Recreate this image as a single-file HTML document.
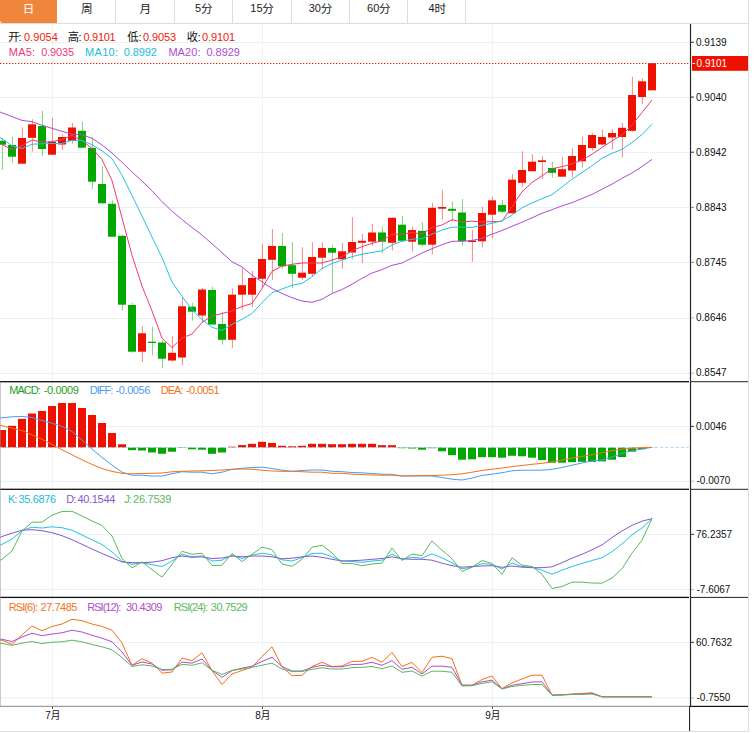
<!DOCTYPE html>
<html lang="zh"><head><meta charset="utf-8"><title>K线图</title>
<style>
html,body{margin:0;padding:0;background:#fff}
body{width:755px;height:733px;position:relative;overflow:hidden;font-family:"Liberation Sans",sans-serif}
#wrap{position:absolute;left:0;top:0;width:748px;height:731px;border-right:1px solid #ddd;border-bottom:1px solid #ddd;overflow:hidden}
#tabs{position:absolute;left:0;top:0;width:748px;height:23px;border-bottom:1px solid #ddd}
.tab{position:absolute;top:0;height:23px;box-sizing:border-box;border-right:1px solid #ddd}
.tab.act{background:#f0863c;background-clip:padding-box;border-right-color:transparent;border-bottom-left-radius:2px;height:22.6px}
#chart{position:absolute;left:0;top:0}
.t{position:absolute;line-height:14px;white-space:pre}
.cj{position:absolute;overflow:visible}
.cjt{font-family:"Liberation Sans","Noto Sans CJK SC",sans-serif}
</style></head><body>
<div id="wrap">
<div id="tabs">
<div class="tab act" style="left:0px;width:58px"><span class="t cjt" style="left:22.73px;top:1.5px;font-size:11.6px;color:#fff">日</span></div>
<div class="tab" style="left:58px;width:58px"><span class="t cjt" style="left:23.10px;top:1.5px;font-size:11.6px;color:#222">周</span></div>
<div class="tab" style="left:116px;width:59px"><span class="t cjt" style="left:23.47px;top:1.5px;font-size:11.6px;color:#222">月</span></div>
<div class="tab" style="left:175px;width:58px"><span class="t" style="left:19.98px;top:1.19px;font-size:11px;color:#222">5</span><span class="t cjt" style="left:25.90px;top:1.5px;font-size:11.6px;color:#222">分</span></div>
<div class="tab" style="left:233px;width:58.5px"><span class="t" style="left:17.29px;top:1.19px;font-size:11px;color:#222">15</span><span class="t cjt" style="left:29.33px;top:1.5px;font-size:11.6px;color:#222">分</span></div>
<div class="tab" style="left:291.5px;width:58.5px"><span class="t" style="left:17.16px;top:1.19px;font-size:11px;color:#222">30</span><span class="t cjt" style="left:29.20px;top:1.5px;font-size:11.6px;color:#222">分</span></div>
<div class="tab" style="left:350px;width:58px"><span class="t" style="left:17.03px;top:1.19px;font-size:11px;color:#222">60</span><span class="t cjt" style="left:29.07px;top:1.5px;font-size:11.6px;color:#222">分</span></div>
<div class="tab" style="left:408px;width:58px"><span class="t" style="left:20.46px;top:1.19px;font-size:11px;color:#222">4</span><span class="t cjt" style="left:26.38px;top:1.5px;font-size:11.6px;color:#222">时</span></div>
</div>
<svg id="chart" width="748" height="731" viewBox="0 0 748 731" shape-rendering="auto">
<rect x="0" y="42" width="689" height="1" fill="#e9f0f6"/>
<rect x="0" y="97" width="689" height="1" fill="#e9f0f6"/>
<rect x="0" y="152" width="689" height="1" fill="#e9f0f6"/>
<rect x="0" y="207" width="689" height="1" fill="#e9f0f6"/>
<rect x="0" y="262" width="689" height="1" fill="#e9f0f6"/>
<rect x="0" y="318" width="689" height="1" fill="#e9f0f6"/>
<rect x="0" y="373" width="689" height="1" fill="#e9f0f6"/>
<rect x="0" y="426" width="689" height="1" fill="#e9f0f6"/>
<rect x="0" y="481" width="689" height="1" fill="#e9f0f6"/>
<rect x="0" y="534" width="689" height="1" fill="#e9f0f6"/>
<rect x="0" y="589" width="689" height="1" fill="#e9f0f6"/>
<rect x="0" y="642" width="689" height="1" fill="#e9f0f6"/>
<rect x="0" y="697.4" width="689" height="1" fill="#e9f0f6"/>
<rect x="52" y="24" width="1" height="682" fill="#eef3f8"/>
<rect x="52" y="706" width="1" height="3" fill="#555"/>
<rect x="262" y="24" width="1" height="682" fill="#eef3f8"/>
<rect x="262" y="706" width="1" height="3" fill="#555"/>
<rect x="492" y="24" width="1" height="682" fill="#eef3f8"/>
<rect x="492" y="706" width="1" height="3" fill="#555"/>
<rect x="1.9" y="138" width="1" height="31.7" fill="#00a800" opacity="0.5"/>
<rect x="-2" y="140.8" width="8" height="3.9" fill="#00a800"/>
<rect x="11.9" y="137" width="1" height="25.7" fill="#00a800" opacity="0.5"/>
<rect x="8" y="145" width="8" height="11.7" fill="#00a800"/>
<rect x="21.9" y="127.5" width="1" height="36.2" fill="#ee1100" opacity="0.5"/>
<rect x="18" y="138" width="8" height="25.7" fill="#ee1100"/>
<rect x="31.9" y="119.2" width="1" height="32.5" fill="#ee1100" opacity="0.5"/>
<rect x="28" y="124.3" width="8" height="13.5" fill="#ee1100"/>
<rect x="41.9" y="110.8" width="1" height="45.4" fill="#00a800" opacity="0.5"/>
<rect x="38" y="126" width="8" height="23" fill="#00a800"/>
<rect x="51.9" y="117.8" width="1" height="36.9" fill="#ee1100" opacity="0.5"/>
<rect x="48" y="141.7" width="8" height="13" fill="#ee1100"/>
<rect x="61.9" y="134.2" width="1" height="15.8" fill="#ee1100" opacity="0.5"/>
<rect x="58" y="137" width="8" height="7.5" fill="#ee1100"/>
<rect x="71.9" y="123" width="1" height="20.8" fill="#ee1100" opacity="0.5"/>
<rect x="68" y="127.5" width="8" height="13.3" fill="#ee1100"/>
<rect x="81.9" y="121.7" width="1" height="26" fill="#00a800" opacity="0.5"/>
<rect x="78" y="130.8" width="8" height="16.9" fill="#00a800"/>
<rect x="91.9" y="137" width="1" height="52.2" fill="#00a800" opacity="0.5"/>
<rect x="88" y="148" width="8" height="33.7" fill="#00a800"/>
<rect x="101.9" y="166.2" width="1" height="37.1" fill="#00a800" opacity="0.5"/>
<rect x="98" y="184" width="8" height="19.3" fill="#00a800"/>
<rect x="111.9" y="200.2" width="1" height="36.5" fill="#00a800" opacity="0.5"/>
<rect x="108" y="203.8" width="8" height="32.9" fill="#00a800"/>
<rect x="121.9" y="235" width="1" height="75.5" fill="#00a800" opacity="0.5"/>
<rect x="118" y="235.8" width="8" height="68.9" fill="#00a800"/>
<rect x="131.9" y="302.5" width="1" height="50.3" fill="#00a800" opacity="0.5"/>
<rect x="128" y="305" width="8" height="46.7" fill="#00a800"/>
<rect x="141.9" y="326.2" width="1" height="35.8" fill="#ee1100" opacity="0.5"/>
<rect x="138" y="333.3" width="8" height="18.4" fill="#ee1100"/>
<rect x="151.9" y="326.7" width="1" height="28.8" fill="#00a800" opacity="0.5"/>
<rect x="148" y="341.7" width="8" height="1.3" fill="#00a800"/>
<rect x="161.9" y="340" width="1" height="28.3" fill="#00a800" opacity="0.5"/>
<rect x="158" y="342.5" width="8" height="16.2" fill="#00a800"/>
<rect x="171.9" y="336.2" width="1" height="25.5" fill="#ee1100" opacity="0.5"/>
<rect x="168" y="352.8" width="8" height="7.7" fill="#ee1100"/>
<rect x="181.9" y="297.5" width="1" height="67.5" fill="#ee1100" opacity="0.5"/>
<rect x="178" y="306.3" width="8" height="51.2" fill="#ee1100"/>
<rect x="191.9" y="302.8" width="1" height="17.7" fill="#00a800" opacity="0.5"/>
<rect x="188" y="306.7" width="8" height="5" fill="#00a800"/>
<rect x="201.9" y="288" width="1" height="35" fill="#ee1100" opacity="0.5"/>
<rect x="198" y="289.5" width="8" height="26" fill="#ee1100"/>
<rect x="211.9" y="286.7" width="1" height="37.8" fill="#00a800" opacity="0.5"/>
<rect x="208" y="290" width="8" height="34.5" fill="#00a800"/>
<rect x="221.9" y="312.2" width="1" height="32.3" fill="#00a800" opacity="0.5"/>
<rect x="218" y="324" width="8" height="15.8" fill="#00a800"/>
<rect x="231.9" y="288.5" width="1" height="59.2" fill="#ee1100" opacity="0.5"/>
<rect x="228" y="294.7" width="8" height="45.1" fill="#ee1100"/>
<rect x="241.9" y="267.7" width="1" height="42" fill="#ee1100" opacity="0.5"/>
<rect x="238" y="285.2" width="8" height="9.5" fill="#ee1100"/>
<rect x="251.9" y="271" width="1" height="36.2" fill="#ee1100" opacity="0.5"/>
<rect x="248" y="278" width="8" height="16.7" fill="#ee1100"/>
<rect x="261.9" y="244" width="1" height="44.5" fill="#ee1100" opacity="0.5"/>
<rect x="258" y="259" width="8" height="19.8" fill="#ee1100"/>
<rect x="271.9" y="229" width="1" height="50.7" fill="#ee1100" opacity="0.5"/>
<rect x="268" y="246" width="8" height="13.8" fill="#ee1100"/>
<rect x="281.9" y="233" width="1" height="36" fill="#00a800" opacity="0.5"/>
<rect x="278" y="246" width="8" height="20.3" fill="#00a800"/>
<rect x="291.9" y="242.2" width="1" height="45.8" fill="#00a800" opacity="0.5"/>
<rect x="288" y="265.2" width="8" height="8.6" fill="#00a800"/>
<rect x="301.9" y="247.2" width="1" height="32.5" fill="#ee1100" opacity="0.5"/>
<rect x="298" y="272.7" width="8" height="5" fill="#ee1100"/>
<rect x="311.9" y="242.2" width="1" height="33.8" fill="#ee1100" opacity="0.5"/>
<rect x="308" y="257" width="8" height="16.8" fill="#ee1100"/>
<rect x="321.9" y="242.2" width="1" height="27.5" fill="#ee1100" opacity="0.5"/>
<rect x="318" y="248" width="8" height="9.7" fill="#ee1100"/>
<rect x="331.9" y="244.8" width="1" height="48.7" fill="#00a800" opacity="0.5"/>
<rect x="328" y="248" width="8" height="4.7" fill="#00a800"/>
<rect x="341.9" y="242.8" width="1" height="25.9" fill="#ee1100" opacity="0.5"/>
<rect x="338" y="251.3" width="8" height="7.9" fill="#ee1100"/>
<rect x="351.9" y="217" width="1" height="42.2" fill="#ee1100" opacity="0.5"/>
<rect x="348" y="242" width="8" height="10.5" fill="#ee1100"/>
<rect x="361.9" y="233.8" width="1" height="29" fill="#ee1100" opacity="0.5"/>
<rect x="358" y="240.8" width="8" height="2" fill="#ee1100"/>
<rect x="371.9" y="223.8" width="1" height="22" fill="#ee1100" opacity="0.5"/>
<rect x="368" y="232.5" width="8" height="9.2" fill="#ee1100"/>
<rect x="381.9" y="226.7" width="1" height="26.6" fill="#00a800" opacity="0.5"/>
<rect x="378" y="232.5" width="8" height="9.2" fill="#00a800"/>
<rect x="391.9" y="217.2" width="1" height="33.1" fill="#ee1100" opacity="0.5"/>
<rect x="388" y="217.8" width="8" height="25" fill="#ee1100"/>
<rect x="401.9" y="215.8" width="1" height="26.2" fill="#00a800" opacity="0.5"/>
<rect x="398" y="224.7" width="8" height="16.1" fill="#00a800"/>
<rect x="411.9" y="226.7" width="1" height="25" fill="#ee1100" opacity="0.5"/>
<rect x="408" y="230" width="8" height="11.7" fill="#ee1100"/>
<rect x="421.9" y="222.2" width="1" height="24.5" fill="#00a800" opacity="0.5"/>
<rect x="418" y="230.8" width="8" height="13.9" fill="#00a800"/>
<rect x="431.9" y="202.8" width="1" height="51.4" fill="#ee1100" opacity="0.5"/>
<rect x="428" y="207.8" width="8" height="36.9" fill="#ee1100"/>
<rect x="441.9" y="189.7" width="1" height="30" fill="#ee1100" opacity="0.5"/>
<rect x="438" y="207" width="8" height="1.7" fill="#ee1100"/>
<rect x="451.9" y="201.7" width="1" height="20" fill="#00a800" opacity="0.5"/>
<rect x="448" y="208.8" width="8" height="2" fill="#00a800"/>
<rect x="461.9" y="199" width="1" height="46.3" fill="#00a800" opacity="0.5"/>
<rect x="458" y="212.5" width="8" height="28.7" fill="#00a800"/>
<rect x="471.9" y="230" width="1" height="31.7" fill="#ee1100" opacity="0.5"/>
<rect x="468" y="240.5" width="8" height="1.5" fill="#ee1100"/>
<rect x="481.9" y="206.7" width="1" height="40.8" fill="#ee1100" opacity="0.5"/>
<rect x="478" y="213" width="8" height="28.3" fill="#ee1100"/>
<rect x="491.9" y="196.7" width="1" height="41.6" fill="#ee1100" opacity="0.5"/>
<rect x="488" y="200.3" width="8" height="14.4" fill="#ee1100"/>
<rect x="501.9" y="199.7" width="1" height="13.6" fill="#00a800" opacity="0.5"/>
<rect x="498" y="205" width="8" height="6.7" fill="#00a800"/>
<rect x="511.9" y="174.2" width="1" height="39.1" fill="#ee1100" opacity="0.5"/>
<rect x="508" y="179.7" width="8" height="33.6" fill="#ee1100"/>
<rect x="521.9" y="151.3" width="1" height="35.4" fill="#ee1100" opacity="0.5"/>
<rect x="518" y="170" width="8" height="12.8" fill="#ee1100"/>
<rect x="531.9" y="154.2" width="1" height="17.5" fill="#ee1100" opacity="0.5"/>
<rect x="528" y="161.7" width="8" height="9.5" fill="#ee1100"/>
<rect x="541.9" y="156.2" width="1" height="22.5" fill="#ee1100" opacity="0.5"/>
<rect x="538" y="160.3" width="8" height="1.7" fill="#ee1100"/>
<rect x="551.9" y="161.7" width="1" height="16.1" fill="#00a800" opacity="0.5"/>
<rect x="548" y="168" width="8" height="4.8" fill="#00a800"/>
<rect x="561.9" y="157.2" width="1" height="19.5" fill="#ee1100" opacity="0.5"/>
<rect x="558" y="169.2" width="8" height="7.5" fill="#ee1100"/>
<rect x="571.9" y="148" width="1" height="29.5" fill="#ee1100" opacity="0.5"/>
<rect x="568" y="156" width="8" height="14.5" fill="#ee1100"/>
<rect x="581.9" y="136.7" width="1" height="30.8" fill="#ee1100" opacity="0.5"/>
<rect x="578" y="145" width="8" height="16.3" fill="#ee1100"/>
<rect x="591.9" y="132.8" width="1" height="17.7" fill="#ee1100" opacity="0.5"/>
<rect x="588" y="135" width="8" height="13" fill="#ee1100"/>
<rect x="601.9" y="129.7" width="1" height="15.6" fill="#ee1100" opacity="0.5"/>
<rect x="598" y="137" width="8" height="7.5" fill="#ee1100"/>
<rect x="611.9" y="128.8" width="1" height="20.7" fill="#ee1100" opacity="0.5"/>
<rect x="608" y="133" width="8" height="4.5" fill="#ee1100"/>
<rect x="621.9" y="122.8" width="1" height="34.7" fill="#ee1100" opacity="0.5"/>
<rect x="618" y="127.8" width="8" height="9.2" fill="#ee1100"/>
<rect x="631.9" y="76.7" width="1" height="55" fill="#ee1100" opacity="0.5"/>
<rect x="628" y="95" width="8" height="35.8" fill="#ee1100"/>
<rect x="641.9" y="78.3" width="1" height="25.9" fill="#ee1100" opacity="0.5"/>
<rect x="638" y="81.3" width="8" height="15.7" fill="#ee1100"/>
<rect x="651.9" y="63.3" width="1" height="27" fill="#ee1100" opacity="0.5"/>
<rect x="648" y="63.3" width="8" height="27" fill="#ee1100"/>
<polyline points="-8,140.5 0,143.7 2,144.5 12,149.5 22,145.5 32,140 42,142.2 52,141.7 62,139.5 72,135.3 82,140.7 92,148.3 102,159.7 112,180.5 122,217.9 132,255.3 142,286 152,311 162,338 172,347.5 182,338 192,334 202,322.5 212,316 222,313.5 232,311 242,306.5 252,303.5 262,288.5 272,271.3 282,266 292,264.3 302,263 312,263 322,263 332,260.2 342,256.7 352,250.8 362,246.7 372,243.3 382,240.8 392,234.2 402,234.2 412,232.5 422,234.2 432,227.5 442,225 452,219.7 462,222 472,221.2 482,222 492,221.7 502,221.2 512,206.7 522,191.7 532,182.5 542,175.8 552,168.7 562,166.7 572,163.8 582,160 592,154.2 602,147.5 612,140.8 622,135 632,125 642,112.5 652,100" fill="none" stroke="#ee3a74" stroke-width="1.0" stroke-linejoin="round"/>
<polyline points="-8,132.7 0,137.5 2,138.7 12,145.8 22,148.5 32,144.2 42,143.8 52,143.5 62,143.5 72,140.3 82,140.5 92,144.7 102,150.9 112,158.6 122,175.2 132,195.5 142,216 152,237 162,257.5 172,282 182,296.3 192,309.7 202,319.7 212,327.3 222,330.5 232,324.3 242,319.3 252,313.5 262,302.7 272,292.7 282,289 292,285.2 302,283.5 312,276.8 322,268.5 332,263.5 342,260 352,256.7 362,254.2 372,252.5 382,250.8 392,245 402,241.3 412,239.2 422,238.7 432,234.2 442,230 452,227.2 462,227.2 472,227.5 482,225.3 492,223.3 502,220.8 512,215 522,207.8 532,203 542,198.7 552,194.7 562,187 572,179.3 582,172.5 592,165.8 602,158.2 612,153.3 622,149.5 632,142.5 642,134.6 652,124.2" fill="none" stroke="#22c4e4" stroke-width="1.0" stroke-linejoin="round"/>
<polyline points="-8,108.8 0,112 2,112.8 12,116.6 22,120.4 32,121.7 42,125.3 52,128.3 62,131.3 72,134.2 82,134.7 92,138.3 102,145 112,153 122,162.3 132,172 142,181 152,190.8 162,201.7 172,211.2 182,219.5 192,227.5 202,235 212,243.8 222,252.6 232,261.8 242,266.8 252,275.2 262,281.8 272,288.5 282,293.5 292,297.7 302,301 312,302.3 322,299.3 332,293.5 342,289.5 352,284.2 362,278.3 372,273 382,269.7 392,265.3 402,263 412,258 422,253 432,248.7 442,244.7 452,241.3 462,241.2 472,240.5 482,238.3 492,234.2 502,230.5 512,226.3 522,222.2 532,217.8 542,213.3 552,209.7 562,205.8 572,202.7 582,198.5 592,194.5 602,189.2 612,184.2 622,178.3 632,173 642,166.5 652,159.4" fill="none" stroke="#b04cd0" stroke-width="1.0" stroke-linejoin="round"/>
<line x1="0" y1="63.5" x2="690" y2="63.5" stroke="#ee1100" stroke-width="1" stroke-dasharray="1.3 1.7"/>
<rect x="-2" y="430" width="8" height="17.5" fill="#ee1100"/>
<rect x="8" y="425.8" width="8" height="21.7" fill="#ee1100"/>
<rect x="18" y="418.8" width="8" height="28.7" fill="#ee1100"/>
<rect x="28" y="413.5" width="8" height="34" fill="#ee1100"/>
<rect x="38" y="411" width="8" height="36.5" fill="#ee1100"/>
<rect x="48" y="406" width="8" height="41.5" fill="#ee1100"/>
<rect x="58" y="403" width="8" height="44.5" fill="#ee1100"/>
<rect x="68" y="403" width="8" height="44.5" fill="#ee1100"/>
<rect x="78" y="408" width="8" height="39.5" fill="#ee1100"/>
<rect x="88" y="415" width="8" height="32.5" fill="#ee1100"/>
<rect x="98" y="423" width="8" height="24.5" fill="#ee1100"/>
<rect x="108" y="433" width="8" height="14.5" fill="#ee1100"/>
<rect x="118" y="444.3" width="8" height="3.2" fill="#ee1100"/>
<rect x="128" y="447.5" width="8" height="2.7" fill="#00a800"/>
<rect x="138" y="447.5" width="8" height="3" fill="#00a800"/>
<rect x="148" y="447.5" width="8" height="5" fill="#00a800"/>
<rect x="158" y="447.5" width="8" height="6.3" fill="#00a800"/>
<rect x="168" y="447.5" width="8" height="4.2" fill="#00a800"/>
<rect x="178" y="447.5" width="8" height="0.5" fill="#00a800"/>
<rect x="188" y="447.5" width="8" height="1.8" fill="#00a800"/>
<rect x="198" y="447.5" width="8" height="2.2" fill="#00a800"/>
<rect x="208" y="447.5" width="8" height="6.3" fill="#00a800"/>
<rect x="218" y="447.5" width="8" height="5" fill="#00a800"/>
<rect x="228" y="446.7" width="8" height="0.8" fill="#ee1100"/>
<rect x="238" y="445.1" width="8" height="2.4" fill="#ee1100"/>
<rect x="248" y="443.8" width="8" height="3.7" fill="#ee1100"/>
<rect x="258" y="441.8" width="8" height="5.7" fill="#ee1100"/>
<rect x="268" y="443" width="8" height="4.5" fill="#ee1100"/>
<rect x="278" y="445.8" width="8" height="1.7" fill="#ee1100"/>
<rect x="288" y="446.3" width="8" height="1.2" fill="#ee1100"/>
<rect x="298" y="445.8" width="8" height="1.7" fill="#ee1100"/>
<rect x="308" y="443.8" width="8" height="3.7" fill="#ee1100"/>
<rect x="318" y="443.8" width="8" height="3.7" fill="#ee1100"/>
<rect x="328" y="444.2" width="8" height="3.3" fill="#ee1100"/>
<rect x="338" y="444.2" width="8" height="3.3" fill="#ee1100"/>
<rect x="348" y="443.8" width="8" height="3.7" fill="#ee1100"/>
<rect x="358" y="443.8" width="8" height="3.7" fill="#ee1100"/>
<rect x="368" y="443.8" width="8" height="3.7" fill="#ee1100"/>
<rect x="378" y="445.2" width="8" height="2.3" fill="#ee1100"/>
<rect x="388" y="445.2" width="8" height="2.3" fill="#ee1100"/>
<rect x="398" y="447.5" width="8" height="0.7" fill="#00a800"/>
<rect x="408" y="447.5" width="8" height="1" fill="#00a800"/>
<rect x="418" y="447.5" width="8" height="2.2" fill="#00a800"/>
<rect x="428" y="447.5" width="8" height="0.7" fill="#00a800"/>
<rect x="438" y="447.5" width="8" height="3.8" fill="#00a800"/>
<rect x="448" y="447.5" width="8" height="7.7" fill="#00a800"/>
<rect x="458" y="447.5" width="8" height="12.2" fill="#00a800"/>
<rect x="468" y="447.5" width="8" height="11.8" fill="#00a800"/>
<rect x="478" y="447.5" width="8" height="9.7" fill="#00a800"/>
<rect x="488" y="447.5" width="8" height="9.7" fill="#00a800"/>
<rect x="498" y="447.5" width="8" height="10.2" fill="#00a800"/>
<rect x="508" y="447.5" width="8" height="8.3" fill="#00a800"/>
<rect x="518" y="447.5" width="8" height="8.8" fill="#00a800"/>
<rect x="528" y="447.5" width="8" height="10.2" fill="#00a800"/>
<rect x="538" y="447.5" width="8" height="12.5" fill="#00a800"/>
<rect x="548" y="447.5" width="8" height="15.2" fill="#00a800"/>
<rect x="558" y="447.5" width="8" height="15.2" fill="#00a800"/>
<rect x="568" y="447.5" width="8" height="14.7" fill="#00a800"/>
<rect x="578" y="447.5" width="8" height="14.3" fill="#00a800"/>
<rect x="588" y="447.5" width="8" height="14.3" fill="#00a800"/>
<rect x="598" y="447.5" width="8" height="13.9" fill="#00a800"/>
<rect x="608" y="447.5" width="8" height="12.2" fill="#00a800"/>
<rect x="618" y="447.5" width="8" height="9.5" fill="#00a800"/>
<rect x="628" y="447.5" width="8" height="4.2" fill="#00a800"/>
<rect x="638" y="447.5" width="8" height="1.7" fill="#00a800"/>
<rect x="648" y="447.5" width="8" height="0.2" fill="#00a800"/>
<line x1="0" y1="447.5" x2="688.5" y2="447.5" stroke="#a6d4f4" stroke-width="1" stroke-dasharray="2.6 2.6"/>
<polyline points="-8,418.8 0,418 2,417.8 12,416.8 22,416.4 32,417.5 42,420.5 52,423.2 62,426.4 72,431.5 82,440 92,449 102,457.4 112,465 122,472.2 132,475.2 142,475.2 152,476 162,476 172,473.8 182,471.7 192,472.2 202,472.2 212,473.8 222,472.2 232,469.3 242,468.3 252,467.5 262,467.2 272,468.5 282,470.2 292,471.3 302,470.5 312,470 322,470 332,471.3 342,471.7 352,472.5 362,472.8 372,473.5 382,474.2 392,474.3 402,476 412,476 422,476 432,476 442,477.5 452,479.2 462,480 472,478 482,475.4 492,474.2 502,472.7 512,470.8 522,470.2 532,470.2 542,470.2 552,469.3 562,467.5 572,465.2 582,463 592,460.8 602,460.1 612,457 622,453.4 632,450.7 642,449 652,447.3" fill="none" stroke="#4a9cf0" stroke-width="1.0" stroke-linejoin="round"/>
<polyline points="-8,423.2 0,425.2 2,425.7 12,428.2 22,430.6 32,434.8 42,439.3 52,444.3 62,449.8 72,454.8 82,459.8 92,464.4 102,468.6 112,471.4 122,473.3 132,473.8 142,473.5 152,473.3 162,473 172,471.8 182,471.3 192,471 202,470.8 212,470.5 222,470 232,469.3 242,469 252,469.3 262,470.2 272,471 282,471.3 292,471.3 302,471.7 312,472.2 322,472.2 332,473.3 342,473.3 352,474.2 362,474.5 372,475 382,475.2 392,475.2 402,476 412,475.8 422,475.5 432,475.5 442,475.2 452,474.7 462,473.8 472,472.2 482,470.5 492,469.2 502,468 512,466.7 522,465.5 532,464.3 542,463.3 552,461.8 562,460 572,458 582,456.3 592,454.7 602,452.9 612,450.7 622,449.2 632,448.3 642,447.7 652,447.3" fill="none" stroke="#f57216" stroke-width="1.0" stroke-linejoin="round"/>
<polyline points="-8,548.8 0,545.2 2,544.3 12,539 22,530.5 32,527.2 42,528 52,526.8 62,527.7 72,530.2 82,535 92,539.8 102,544.5 112,551.8 122,561.2 132,564.3 142,562.7 152,564.7 162,566.5 172,561 182,554.3 192,556.8 202,556 212,561 222,560.2 232,555.2 242,558.5 252,555.2 262,553.2 272,554.8 282,559.8 292,561 302,557.7 312,553.5 322,553.2 332,556.8 342,561 352,561.5 362,562.3 372,561 382,560.2 392,554 402,559.3 412,557.3 422,558.2 432,553.8 442,558 452,562.7 462,568.8 472,567.2 482,563.7 492,564.3 502,569 512,563 522,566.5 532,567.2 542,570.2 552,574.3 562,570.2 572,566.5 582,563.5 592,560.5 602,557.7 612,551.7 622,543.9 632,534.9 642,528.1 652,518.6" fill="none" stroke="#22c4e4" stroke-width="1.0" stroke-linejoin="round"/>
<polyline points="-8,540.5 0,537.3 2,536.5 12,533.2 22,530.2 32,529.7 42,530.7 52,532.7 62,535.7 72,539.7 82,544.3 92,549 102,553.5 112,557.7 122,562 132,562.7 142,562.7 152,562.2 162,560.7 172,557.7 182,556 192,557.3 202,556.8 212,558.5 222,558 232,556 242,556.8 252,556 262,556 272,556.8 282,558.8 292,558.2 302,556.8 312,556 322,557.3 332,559.3 342,561 352,560.7 362,560.2 372,559.3 382,558.5 392,556.8 402,558.8 412,559.3 422,559.3 432,560.2 442,563.2 452,565.7 462,567.2 472,566.5 482,566 492,565.7 502,567.3 512,566 522,567.2 532,567.7 542,567.7 552,566.8 562,562.7 572,558.2 582,554.3 592,549.8 602,544.9 612,537.6 622,530.9 632,525.4 642,521.2 652,518.6" fill="none" stroke="#8a56d0" stroke-width="1.0" stroke-linejoin="round"/>
<polyline points="-8,565.3 0,560.5 2,559.3 12,551 22,531 32,522.2 42,522.2 52,515.2 62,511.5 72,511.3 82,516 92,521 102,525.5 112,536 122,558.5 132,568 142,561.8 152,569.7 162,577.2 172,564.3 182,551.3 192,554.3 202,553.2 212,565.5 222,565.2 232,553.5 242,561.6 252,554.3 262,547.2 272,549.7 282,564 292,566.3 302,559.3 312,547.2 322,545.2 332,553 342,563.5 352,563.5 362,565.7 372,564 382,563.2 392,548 402,560.5 412,554 422,555.7 432,541 442,550.2 452,558.8 462,571.5 472,567.2 482,560.5 492,563.5 502,574.3 512,557.7 522,565.2 532,566.5 542,574.3 552,588.5 562,586.5 572,582.2 582,582.2 592,583 602,583.2 612,578 622,568.8 632,553 642,540.3 652,518.6" fill="none" stroke="#5cb85c" stroke-width="1.0" stroke-linejoin="round"/>
<polyline points="-8,639.2 0,640 2,640.2 12,644.3 22,634.8 32,626 42,630.7 52,626.5 62,624 72,619.3 82,620.7 92,624 102,626.5 112,630.2 122,643 132,665.3 142,658.7 152,663.2 162,673.2 172,672 182,658.2 192,660.7 202,652.8 212,670.7 222,684.5 232,674 242,670.5 252,667.3 262,656.5 272,646.8 282,666.8 292,675.7 302,675.3 312,666.5 322,662.3 332,666.5 342,666 352,661.5 362,661.2 372,657.3 382,662.3 392,652.3 402,666.5 412,662.3 422,672.7 432,657.3 442,656.2 452,658.7 462,685.2 472,685.2 482,679.5 492,676 502,688.7 512,682.8 522,679 532,675.2 542,675.2 552,695.2 562,694.8 572,694 582,693.5 592,692.7 602,696.8 612,696.8 622,696.8 632,696.8 642,696.8 652,696.8" fill="none" stroke="#f57216" stroke-width="1.0" stroke-linejoin="round"/>
<polyline points="-8,638.8 0,639.2 2,639.3 12,641.5 22,637 32,633.2 42,635.7 52,634 62,632.8 72,630.2 82,632 92,635.3 102,638.2 112,641.8 122,652 132,665.3 142,662 152,664 162,670.3 172,669.8 182,662 192,663.2 202,659 212,670.3 222,677.3 232,670.7 242,668.2 252,666.2 262,661.5 272,657.3 282,666.5 292,671 302,671 312,667.3 322,665.3 332,666.8 342,666.8 352,664.5 362,664.3 372,662.3 382,665.3 392,660.7 402,669.3 412,667.3 422,674 432,666.2 442,666.2 452,667.3 462,685.2 472,685.3 482,681.8 492,680.2 502,688.7 512,685.3 522,683.7 532,682 542,681.8 552,695.2 562,694.8 572,694.3 582,694 592,693.5 602,696.8 612,696.8 622,696.8 632,696.8 642,696.8 652,696.8" fill="none" stroke="#b04cd0" stroke-width="1.0" stroke-linejoin="round"/>
<polyline points="-8,643 0,643.4 2,643.5 12,645.3 22,643.2 32,641.5 42,643.5 52,642.3 62,641.8 72,640.2 82,641.8 92,644.5 102,646.8 112,649.8 122,657.5 132,666.5 142,664.8 152,666 162,669.5 172,669.3 182,664.3 192,665.3 202,662.8 212,670.3 222,674.5 232,670.3 242,669 252,667.3 262,665.2 272,663.2 282,669 292,671.5 302,671.5 312,669.3 322,667.8 332,669 342,669 352,667.7 362,667.3 372,666.5 382,668.7 392,666 402,672.3 412,671 422,676 432,671.2 442,671.2 452,672.3 462,686 472,685.7 482,683.4 492,681.8 502,689 512,686.5 522,685.3 532,684.5 542,684.5 552,695.2 562,695 572,694.5 582,694.3 592,694 602,696.8 612,696.8 622,696.8 632,696.8 642,696.8 652,696.8" fill="none" stroke="#5cb85c" stroke-width="1.0" stroke-linejoin="round"/>
<rect x="0" y="381.05" width="689" height="1.3" fill="#111"/>
<rect x="690" y="381.20" width="58" height="1" fill="#222"/>
<rect x="0" y="488.65" width="689" height="1.3" fill="#111"/>
<rect x="690" y="488.80" width="58" height="1" fill="#222"/>
<rect x="0" y="596.75" width="689" height="1.3" fill="#111"/>
<rect x="690" y="596.90" width="58" height="1" fill="#222"/>
<rect x="0" y="705.8" width="690" height="1" fill="#888"/>
<rect x="690" y="705.8" width="58" height="1.2" fill="#111"/>
<rect x="689.9" y="24" width="1.2" height="682" fill="#2a2a2a"/>
<rect x="689" y="706" width="1.1" height="25" fill="#2a2a2a"/>
<rect x="0" y="382" width="0.5" height="324" fill="#999"/>
<rect x="691" y="41.70" width="3" height="1" fill="#333"/>
<rect x="691" y="96.60" width="3" height="1" fill="#333"/>
<rect x="691" y="151.70" width="3" height="1" fill="#333"/>
<rect x="691" y="206.90" width="3" height="1" fill="#888"/>
<rect x="691" y="261.90" width="3" height="1" fill="#888"/>
<rect x="691" y="317.30" width="3" height="1" fill="#bbb"/>
<rect x="691" y="372.70" width="3" height="1" fill="#bbb"/>
<rect x="691" y="425.90" width="3" height="1" fill="#333"/>
<rect x="691" y="480.70" width="3" height="1" fill="#bbb"/>
<rect x="691" y="533.80" width="3" height="1" fill="#333"/>
<rect x="691" y="589.10" width="3" height="1" fill="#bbb"/>
<rect x="691" y="641.80" width="3" height="1" fill="#333"/>
<rect x="691" y="697.50" width="3" height="1" fill="#bbb"/>
<rect x="692" y="56" width="56" height="14.8" fill="#ee1100"/>
<rect x="692.5" y="63" width="2.5" height="1" fill="#fff"/>
</svg>
<span class="t" style="left:696px;top:36.04px;font-size:10px;color:#111;">0.9139</span>
<span class="t" style="left:696px;top:91.03px;font-size:10px;color:#111;">0.9040</span>
<span class="t" style="left:696px;top:146.03px;font-size:10px;color:#111;">0.8942</span>
<span class="t" style="left:696px;top:201.03px;font-size:10px;color:#111;">0.8843</span>
<span class="t" style="left:696px;top:256.03px;font-size:10px;color:#111;">0.8745</span>
<span class="t" style="left:696px;top:311.03px;font-size:10px;color:#111;">0.8646</span>
<span class="t" style="left:696px;top:366.03px;font-size:10px;color:#111;">0.8547</span>
<span class="t" style="left:696px;top:420.03px;font-size:10px;color:#111;">0.0046</span>
<span class="t" style="left:696.5px;top:474.03px;font-size:10px;color:#111;">-0.0070</span>
<span class="t" style="left:696px;top:528.04px;font-size:10px;color:#111;">76.2357</span>
<span class="t" style="left:696.5px;top:583.04px;font-size:10px;color:#111;">-7.6067</span>
<span class="t" style="left:696px;top:636.04px;font-size:10px;color:#111;">60.7632</span>
<span class="t" style="left:696.5px;top:691.04px;font-size:10px;color:#111;">-0.7550</span>
<span class="t" style="left:696.6px;top:57.04px;font-size:10px;color:#fff;">0.9101</span>
<span class="t cjt" style="left:8.3px;top:30.12px;font-size:11.3px;color:#111">开</span>
<span class="t cjt" style="left:67.7px;top:30.12px;font-size:11.3px;color:#111">高</span>
<span class="t cjt" style="left:127.2px;top:30.12px;font-size:11.3px;color:#111">低</span>
<span class="t cjt" style="left:186.7px;top:30.12px;font-size:11.3px;color:#111">收</span>
<span class="t" style="left:18.6px;top:30.39px;font-size:11px;color:#111;letter-spacing:0.000px">:</span>
<span class="t" style="left:23.9px;top:30.39px;font-size:11px;color:#f0200c;letter-spacing:0.075px">0.9054</span>
<span class="t" style="left:78.5px;top:30.39px;font-size:11px;color:#111;letter-spacing:0.000px">:</span>
<span class="t" style="left:83.5px;top:30.39px;font-size:11px;color:#f0200c;letter-spacing:-0.305px">0.9101</span>
<span class="t" style="left:138.5px;top:30.39px;font-size:11px;color:#111;letter-spacing:0.000px">:</span>
<span class="t" style="left:142.9px;top:30.39px;font-size:11px;color:#f0200c;letter-spacing:-0.085px">0.9053</span>
<span class="t" style="left:197.7px;top:30.39px;font-size:11px;color:#111;letter-spacing:0.000px">:</span>
<span class="t" style="left:201.9px;top:30.39px;font-size:11px;color:#f0200c;letter-spacing:-0.085px">0.9101</span>
<span class="t" style="left:8.8px;top:44.99px;font-size:11px;color:#ee3a74;letter-spacing:0.194px">MA5:</span>
<span class="t" style="left:41.2px;top:44.99px;font-size:11px;color:#ee3a74;letter-spacing:-0.145px">0.9035</span>
<span class="t" style="left:85.1px;top:44.99px;font-size:11px;color:#22bcd8;letter-spacing:0.291px">MA10:</span>
<span class="t" style="left:123.7px;top:44.99px;font-size:11px;color:#22bcd8;letter-spacing:-0.105px">0.8992</span>
<span class="t" style="left:168.4px;top:44.99px;font-size:11px;color:#b04cd0;letter-spacing:0.066px">MA20:</span>
<span class="t" style="left:206.5px;top:44.99px;font-size:11px;color:#b04cd0;letter-spacing:-0.045px">0.8929</span>
<span class="t" style="left:9.2px;top:383.19px;font-size:11px;color:#1ca31c;letter-spacing:-0.947px">MACD:</span>
<span class="t" style="left:43.8px;top:383.19px;font-size:11px;color:#1ca31c;letter-spacing:-0.382px">-0.0009</span>
<span class="t" style="left:89.7px;top:383.19px;font-size:11px;color:#4a9cf0;letter-spacing:-1.000px">DIFF:</span>
<span class="t" style="left:115.5px;top:383.19px;font-size:11px;color:#4a9cf0;letter-spacing:-0.398px">-0.0056</span>
<span class="t" style="left:160.8px;top:383.19px;font-size:11px;color:#f57216;letter-spacing:-1.000px">DEA:</span>
<span class="t" style="left:185.9px;top:383.19px;font-size:11px;color:#f57216;letter-spacing:-0.615px">-0.0051</span>
<span class="t" style="left:8px;top:492.19px;font-size:11px;color:#22bcd8;letter-spacing:-1.000px">K:</span>
<span class="t" style="left:18.6px;top:492.19px;font-size:11px;color:#22bcd8;letter-spacing:-0.374px">35.6876</span>
<span class="t" style="left:66.3px;top:492.19px;font-size:11px;color:#8a56d0;letter-spacing:-1.000px">D:</span>
<span class="t" style="left:77.5px;top:492.19px;font-size:11px;color:#8a56d0;letter-spacing:-0.324px">40.1544</span>
<span class="t" style="left:124.2px;top:492.19px;font-size:11px;color:#5cb85c;letter-spacing:-1.000px">J:</span>
<span class="t" style="left:133px;top:492.19px;font-size:11px;color:#5cb85c;letter-spacing:-0.241px">26.7539</span>
<span class="t" style="left:8.8px;top:599.89px;font-size:11px;color:#f57216;letter-spacing:-0.930px">RSI(6):</span>
<span class="t" style="left:40.6px;top:599.89px;font-size:11px;color:#f57216;letter-spacing:-0.491px">27.7485</span>
<span class="t" style="left:87.3px;top:599.89px;font-size:11px;color:#b04cd0;letter-spacing:-1.000px">RSI(12):</span>
<span class="t" style="left:125.9px;top:599.89px;font-size:11px;color:#b04cd0;letter-spacing:-0.541px">30.4309</span>
<span class="t" style="left:173.8px;top:599.89px;font-size:11px;color:#5cb85c;letter-spacing:-0.943px">RSI(24):</span>
<span class="t" style="left:210.8px;top:599.89px;font-size:11px;color:#5cb85c;letter-spacing:-0.474px">30.7529</span>
<span class="t" style="left:45.2px;top:709.14px;font-size:10px;color:#111;">7</span>
<span class="t cjt" style="left:50.7px;top:708.88px;font-size:9.7px;color:#111">月</span>
<span class="t" style="left:255.2px;top:709.14px;font-size:10px;color:#111;">8</span>
<span class="t cjt" style="left:260.7px;top:708.88px;font-size:9.7px;color:#111">月</span>
<span class="t" style="left:485.2px;top:709.14px;font-size:10px;color:#111;">9</span>
<span class="t cjt" style="left:490.7px;top:708.88px;font-size:9.7px;color:#111">月</span>
</div>
</body></html>
